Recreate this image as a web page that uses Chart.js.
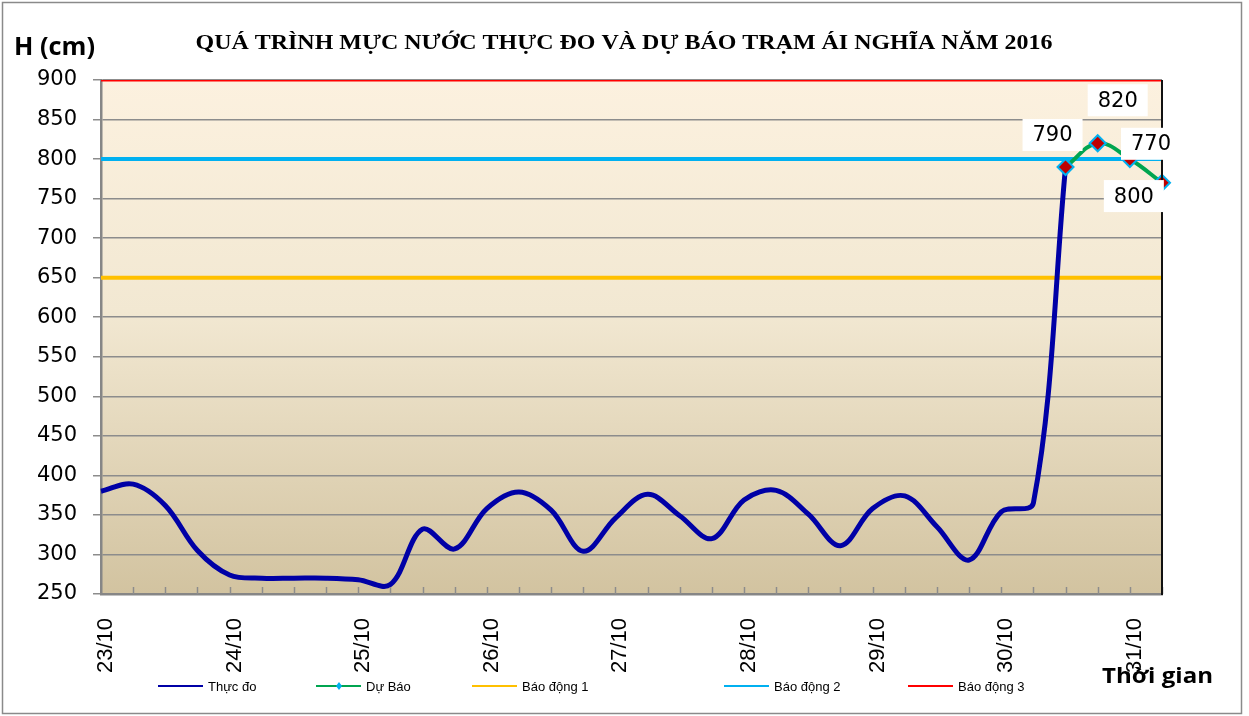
<!DOCTYPE html>
<html>
<head>
<meta charset="utf-8">
<script src="https://cdn.jsdelivr.net/npm/chart.js@4/dist/chart.umd.min.js"></script>
<style>
  html, body { margin: 0; padding: 0; background: #fff; }
  #wrap { width: 1249px; height: 716px; position: relative; }
</style>
</head>
<body>
<div id="wrap"><canvas id="chartMucNuoc" width="1249" height="716"></canvas></div>
<script>
// Ngày trên trục hoành (mỗi ngày 4 obs, 6h một lần)
const days = ['23/10', '24/10', '25/10', '26/10', '27/10', '28/10', '29/10', '30/10', '31/10'];
const stepsPerDay = 4;
const pointCount = 34;

// Mực nước thực đo (cm)
const thucDo = [380, 389, 362, 305, 274, 270, 270, 270, 268, 262,
                332, 307, 358, 379, 356, 304, 346, 376, 349, 320,
                369, 381, 351, 311, 358, 374, 335, 293, 354, 365, 790];

// Dự báo (cm), bắt đầu tại điểm thực đo cuối
const duBaoStart = 30;
const duBao = [790, 820, 800, 770];

// Mức báo động (cm)
const baoDong1 = 650;
const baoDong2 = 800;
const baoDong3 = 900;

const yTicks = { min: 250, max: 900, step: 50 };

const title = 'QUÁ TRÌNH MỰC NƯỚC THỰC ĐO VÀ DỰ BÁO TRẠM ÁI NGHĨA NĂM 2016';

// ---- build tables for the library
const labels = [];
for (let i = 0; i < pointCount; i++) {
    labels.push(i % stepsPerDay === 0 ? (days[i / stepsPerDay] || '') : '');
}
const duBaoSeries = labels.map((_, i) => {
    const k = i - duBaoStart;
    return k >= 0 && k < duBao.length ? duBao[k] : null;
});
const flat = v => labels.map(() => v);

const c = {
    blue: '#0000A6',
    green: '#00A550',
    orange: '#FFC000',
    cyan: '#00B0F0',
    red: '#FF0000',
    grid: '#8C8C8C'
};

const legendItems = [
    { text: 'Thực đo', color: c.blue, x: 158 },
    { text: 'Dự Báo', color: c.green, x: 316, marker: true },
    { text: 'Báo động 1', color: c.orange, x: 472 },
    { text: 'Báo động 2', color: c.cyan, x: 724 },
    { text: 'Báo động 3', color: c.red, x: 908 }
];

// draw text squeezed/stretched to a given width
function fitText(ctx, text, x, y, width) {
    const w = ctx.measureText(text).width;
    ctx.save();
    ctx.translate(x, y);
    ctx.scale(width / w, 1);
    ctx.fillText(text, 0, 0);
    ctx.restore();
}

const decorPlugin = {
    id: 'decor',
    beforeDraw(chart) {
        const { ctx, chartArea: a } = chart;
        ctx.save();
        const g = ctx.createLinearGradient(0, a.top, 0, a.bottom);
        g.addColorStop(0, '#FCF1DF');
        g.addColorStop(0.45, '#F2E8D2');
        g.addColorStop(1, '#D2C3A0');
        ctx.fillStyle = g;
        ctx.fillRect(a.left, a.top, a.right - a.left, a.bottom - a.top);
        ctx.restore();
    },
    afterDatasetsDraw(chart) {
        const { ctx, chartArea: a } = chart;
        const xs = chart.scales.x;
        ctx.save();
        // inner tick marks on the time axis
        ctx.strokeStyle = c.grid;
        ctx.lineWidth = 1.5;
        for (let i = 1; i < labels.length; i++) {
            const x = Math.round(xs.getPixelForValue(i)) + 0.5;
            ctx.beginPath();
            ctx.moveTo(x, a.bottom - 7);
            ctx.lineTo(x, a.bottom);
            ctx.stroke();
        }
        // right border
        ctx.strokeStyle = '#111';
        ctx.lineWidth = 2;
        ctx.beginPath();
        ctx.moveTo(a.right, a.top);
        ctx.lineTo(a.right, a.bottom + 1);
        ctx.stroke();
        ctx.restore();
    },
    afterDraw(chart) {
        const { ctx } = chart;
        const meta = chart.getDatasetMeta(1);
        ctx.save();

        // value labels for forecast points
        const offs = [[-13, -32], [20, -43], [4, 37], [-11, -39]];
        ctx.font = '21px "DejaVu Sans"';
        ctx.textAlign = 'center';
        ctx.textBaseline = 'middle';
        for (let k = 0; k < duBao.length; k++) {
            const p = meta.data[duBaoStart + k];
            if (!p) continue;
            const cx = p.x + offs[k][0];
            const cy = p.y + offs[k][1];
            ctx.fillStyle = '#fff';
            ctx.fillRect(cx - 30, cy - 16, 60, 32);
            ctx.fillStyle = '#000';
            ctx.fillText(String(duBao[k]), cx, cy + 1);
        }

        // title
        ctx.fillStyle = '#000';
        ctx.font = 'bold 21px "Liberation Serif"';
        ctx.textBaseline = 'alphabetic';
        ctx.textAlign = 'center';
        fitText(ctx, title, 624, 49, 857);

        // axis titles
        ctx.textAlign = 'left';
        ctx.font = 'bold 25px "Open Sans"';
        fitText(ctx, 'H (cm)', 14, 55, 81);
        ctx.font = 'bold 22px "Open Sans"';
        fitText(ctx, 'Thời gian', 1102, 683, 111);

        // legend
        ctx.font = '13px "Liberation Sans"';
        ctx.textBaseline = 'middle';
        const ly = 686;
        legendItems.forEach(it => {
            ctx.strokeStyle = it.color;
            ctx.lineWidth = 2;
            ctx.beginPath();
            ctx.moveTo(it.x, ly);
            ctx.lineTo(it.x + 45, ly);
            ctx.stroke();
            if (it.marker) {
                const mx = it.x + 23;
                ctx.fillStyle = c.cyan;
                ctx.beginPath();
                ctx.moveTo(mx, ly - 4);
                ctx.lineTo(mx + 3, ly);
                ctx.lineTo(mx, ly + 4);
                ctx.lineTo(mx - 3, ly);
                ctx.closePath();
                ctx.fill();
            }
            ctx.fillStyle = '#000';
            ctx.fillText(it.text, it.x + 50, ly + 1);
        });

        // outer frame
        ctx.strokeStyle = '#8A8A8A';
        ctx.lineWidth = 1.5;
        ctx.strokeRect(2.5, 2.5, 1239, 711);
        ctx.restore();
    }
};

new Chart(document.getElementById('chartMucNuoc'), {
    type: 'line',
    data: {
        labels: labels,
        datasets: [
            {
                label: 'Thực đo',
                data: thucDo,
                borderColor: c.blue,
                borderWidth: 5,
                pointRadius: 0,
                tension: 0.35,
                order: 1
            },
            {
                label: 'Dự Báo',
                data: duBaoSeries,
                borderColor: c.green,
                borderWidth: 4,
                tension: 0.4,
                pointStyle: 'rectRot',
                pointRadius: 8,
                pointBackgroundColor: '#C00000',
                pointBorderColor: c.cyan,
                pointBorderWidth: 2,
                clip: false,
                order: 0
            },
            {
                label: 'Báo động 1',
                data: flat(baoDong1),
                borderColor: c.orange,
                borderWidth: 4,
                pointRadius: 0,
                order: 4
            },
            {
                label: 'Báo động 2',
                data: flat(baoDong2),
                borderColor: c.cyan,
                borderWidth: 4,
                pointRadius: 0,
                order: 3
            },
            {
                label: 'Báo động 3',
                data: flat(baoDong3),
                borderColor: c.red,
                borderWidth: 3,
                pointRadius: 0,
                order: 2
            }
        ]
    },
    options: {
        responsive: false,
        animation: false,
        layout: { padding: { top: 80, right: 87, left: 0, bottom: 0 } },
        plugins: {
            legend: { display: false },
            title: { display: false },
            tooltip: { enabled: false }
        },
        scales: {
            x: {
                offset: false,
                afterFit: function (scale) { scale.height = 122; },
                grid: { display: true, drawOnChartArea: false, drawTicks: false },
                border: { display: true, color: '#868686', width: 2.5 },
                ticks: {
                    autoSkip: false,
                    maxRotation: 90,
                    minRotation: 90,
                    padding: 24,
                    labelOffset: 5,
                    color: '#000',
                    font: { size: 22, family: "'Liberation Sans', Arial, sans-serif" }
                }
            },
            y: {
                min: yTicks.min,
                max: yTicks.max,
                afterFit: function (scale) { scale.width = 101; },
                grid: {
                    color: c.grid,
                    lineWidth: 1.5,
                    tickLength: 8,
                    tickColor: c.grid,
                    tickWidth: 1.5
                },
                border: { display: true, color: '#868686', width: 2.5 },
                ticks: {
                    stepSize: yTicks.step,
                    padding: 16,
                    color: '#000',
                    font: { size: 21, family: "'DejaVu Sans', sans-serif" }
                }
            }
        }
    },
    plugins: [decorPlugin]
});
</script>
</body>
</html>
